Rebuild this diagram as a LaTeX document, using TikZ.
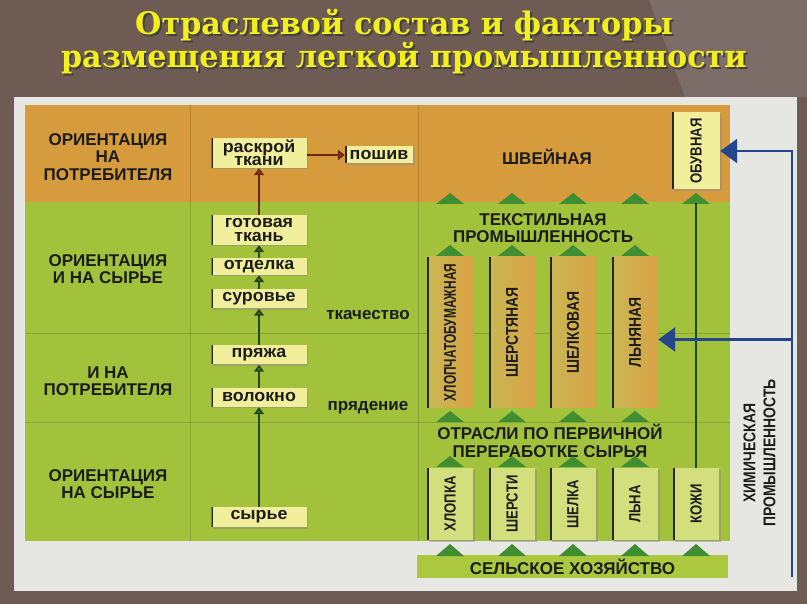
\documentclass[tikz,border=0pt]{standalone}
\usepackage{fontspec}
\setmainfont{Liberation Sans}
\newfontfamily\titlefont[FakeStretch=0.975]{DejaVu Serif}
\newfontfamily\boxfont[FakeStretch=1.05]{Liberation Sans}
\newfontfamily\narrowfont[FakeStretch=0.82]{Liberation Sans}
\newfontfamily\narrowerfont[FakeStretch=0.70]{Liberation Sans}
\usetikzlibrary{positioning, arrows.meta, shadows}

\tikzset{
    bar left/.style={path picture={\draw[line width=3pt, black!85]
        (path picture bounding box.north west) -- (path picture bounding box.south west);}},
    boxshadow/.style={drop shadow={shadow xshift=1.5pt, shadow yshift=-1.5pt, fill=black!45}},
}

\begin{document}
\begin{tikzpicture}[x=1pt, y=-1pt,
    titletext/.style={font=\titlefont\bfseries\fontsize{31}{31}\selectfont, inner sep=0pt, anchor=base},
    zonelabel/.style={font=\bfseries\fontsize{17}{17.5}\selectfont, align=center, text=inkDark},
    chainbox/.style={fill=boxYellow, minimum width=95pt, inner sep=0pt, align=center,
        font=\boxfont\bfseries\fontsize{17}{13.5}\selectfont, text=inkDark, boxshadow, bar left},
    branchbox/.style={rotate=90, minimum width=151pt, minimum height=46pt, inner sep=0pt,
        font=\narrowfont\bfseries\fontsize{17}{17}\selectfont, text=inkDark,
        left color=branchLow, right color=branchHigh, bar left},
    rawbox/.style={rotate=90, minimum width=72pt, minimum height=46pt, inner sep=0pt,
        font=\narrowfont\bfseries\fontsize{16}{16}\selectfont, text=inkDark,
        fill=rawGreen, boxshadow, bar left},
    redstep/.style={draw=stemRed, line width=2.2pt, -{Triangle[width=10pt, length=7pt, fill=tipRed]}},
    mixstep/.style={draw=stemGreen, line width=2.2pt, -{Triangle[width=10pt, length=7pt, fill=tipRed]}},
    greenstep/.style={draw=stemGreen, line width=2.2pt, -{Triangle[width=10pt, length=7pt, fill=tipGreen]}},
    leatherline/.style={draw=stemGreen, line width=2pt},
    chemline/.style={draw=chemBlue, line width=2.5pt, -{Triangle[width=24pt, length=17pt]}},
    tableline/.style={black, opacity=0.15, line width=0.8pt},
]
    \useasboundingbox (0,0) rectangle (807,604);

    \definecolor{slideBrown}{HTML}{6E5B53}
    \definecolor{slideLight}{HTML}{7C6D69}
    \definecolor{paperGray}{HTML}{E6E6E2}
    \definecolor{zoneOrange}{HTML}{D69B3C}
    \definecolor{zoneGreen}{HTML}{A3C23C}
    \definecolor{boxYellow}{HTML}{F1EF9C}
    \definecolor{rawGreen}{HTML}{D3DF7C}
    \definecolor{branchHigh}{HTML}{D9A246}
    \definecolor{branchLow}{HTML}{C9B852}
    \definecolor{triGreen}{HTML}{3F8E31}
    \definecolor{stripGreen}{HTML}{ABC83F}
    \definecolor{inkDark}{HTML}{1C1C1C}
    \definecolor{titleYellow}{HTML}{F3EF1D}
    \definecolor{chemBlue}{HTML}{25468C}
    \definecolor{tipRed}{HTML}{B83A22}
    \definecolor{tipGreen}{HTML}{3F8E31}
    \definecolor{stemRed}{HTML}{6A2A16}
    \definecolor{stemGreen}{HTML}{1F4A1C}

    % Draw slide and paper
    \fill[slideBrown] (0,0) rectangle (807,604);
    \fill[slideLight] (649,0) -- (807,0) -- (807,97) -- (685,97) -- cycle;
    \fill[paperGray] (14,97) rectangle (797,591);

    % Title with its shadow
    \node[titletext, text=black!75] (titleAshadow) at (406,37) {Отраслевой состав и факторы};
    \node[titletext, text=titleYellow] (titleA) at (404,35) {Отраслевой состав и факторы};
    \node[titletext, text=black!75] (titleBshadow) at (406,70) {размещения легкой промышленности};
    \node[titletext, text=titleYellow] (titleB) at (404,68) {размещения легкой промышленности};

    % Coloured zones
    \fill[zoneOrange] (25,105) rectangle (730,202);
    \fill[zoneGreen] (25,202) rectangle (730,541);
    \foreach \gy in {333,422}
        \draw[tableline] (25,\gy) -- (730,\gy);
    \foreach \gx in {190,418}
        \draw[tableline] (\gx,105) -- (\gx,541);

    % Orientation labels
    \node[zonelabel] (consumer) at (108,157) {ОРИЕНТАЦИЯ\\НА\\ПОТРЕБИТЕЛЯ};
    \node[zonelabel] (both) at (108,269) {ОРИЕНТАЦИЯ\\И НА СЫРЬЕ};
    \node[zonelabel] (andConsumer) at (108,381) {И НА\\ПОТРЕБИТЕЛЯ};
    \node[zonelabel] (material) at (108,484) {ОРИЕНТАЦИЯ\\НА СЫРЬЕ};

    % Production chain
    \node[chainbox, minimum height=30pt] (raskroj) at (259,153) {раскрой\\ткани};
    \node[chainbox, minimum width=68pt, minimum height=17pt] (poshiv) at (379,155) {пошив};
    \node[chainbox, minimum height=30pt] (gotovaya) at (259,230) {готовая\\ткань};
    \node[chainbox, minimum height=17pt] (otdelka) at (259,266.5) {отделка};
    \node[chainbox, minimum height=19pt] (surovye) at (259,299) {суровье};
    \node[chainbox, minimum height=19pt] (pryazha) at (259,355) {пряжа};
    \node[chainbox, minimum height=19pt] (volokno) at (259,397.5) {волокно};
    \node[chainbox, minimum height=20pt] (syrye) at (259,517) {сырье};

    \node[zonelabel] (weaving) at (368,315) {ткачество};
    \node[zonelabel] (spinning) at (368,408) {прядение};

    \draw[redstep] (gotovaya) -- (raskroj);
    \draw[redstep] (raskroj.east |- poshiv) -- (poshiv);
    \draw[mixstep] (otdelka) -- (gotovaya);
    \draw[mixstep] (surovye) -- (otdelka);
    \draw[mixstep] (pryazha) -- (surovye);
    \draw[greenstep] (volokno) -- (pryazha);
    \draw[greenstep] (syrye) -- (volokno);

    % Branches of light industry
    \node[zonelabel] (sewing) at (547,157) {ШВЕЙНАЯ};
    \node[zonelabel] (textile) at (543,228) {ТЕКСТИЛЬНАЯ\\ПРОМЫШЛЕННОСТЬ};
    \node[zonelabel] (primary) at (550,441) {ОТРАСЛИ ПО ПЕРВИЧНОЙ\\ПЕРЕРАБОТКЕ СЫРЬЯ};

    \node[rawbox, fill=boxYellow, minimum width=77pt, minimum height=48pt] (obuvnaya) at (696,151) {ОБУВНАЯ};

    \node[branchbox, font=\narrowerfont\bfseries\fontsize{17}{17}\selectfont] (cotton) at (450,332.5) {ХЛОПЧАТОБУМАЖНАЯ};
    \node[branchbox] (wool) at (512,332.5) {ШЕРСТЯНАЯ};
    \node[branchbox] (silk) at (573,332.5) {ШЕЛКОВАЯ};
    \node[branchbox] (linen) at (635,332.5) {ЛЬНЯНАЯ};

    \foreach \rx/\rname/\rtext in {450/rawCotton/ХЛОПКА, 512/rawWool/ШЕРСТИ, 573/rawSilk/ШЕЛКА,
                                  635/rawLinen/ЛЬНА, 696/rawLeather/КОЖИ}
        \node[rawbox] (\rname) at (\rx,504) {\rtext};

    \node[zonelabel, fill=stripGreen, minimum width=311pt, minimum height=23pt, inner sep=0pt] (farming) at (572.5,566.5) {СЕЛЬСКОЕ ХОЗЯЙСТВО};

    % Green triangles between the levels
    \foreach \ty in {204,256,422,467}
        \foreach \tx in {450,512,573,635}
            \fill[triGreen] (\tx-14,\ty) -- (\tx,\ty-11) -- (\tx+14,\ty) -- cycle;
    \foreach \tx in {450,512,573,635,696}
        \fill[triGreen] (\tx-14,556) -- (\tx,544) -- (\tx+14,556) -- cycle;
    \fill[triGreen] (696-14,204) -- (696,193) -- (696+14,204) -- cycle;

    \draw[leatherline, shorten >=13pt] (rawLeather.east) -- (obuvnaya.west);

    % Chemical industry
    \node[rotate=90, font=\narrowfont\bfseries\fontsize{17}{20}\selectfont, align=center, text=inkDark] (chemistry) at (759.5,453) {ХИМИЧЕСКАЯ\\ПРОМЫШЛЕННОСТЬ};
    \coordinate (chemFoot) at (792,577);
    \draw[chemline] (chemFoot) |- (obuvnaya.south);
    \draw[chemline] (chemFoot |- linen.south) ++(0,7) -- ([yshift=-7pt]linen.south);
\end{tikzpicture}
\end{document}
